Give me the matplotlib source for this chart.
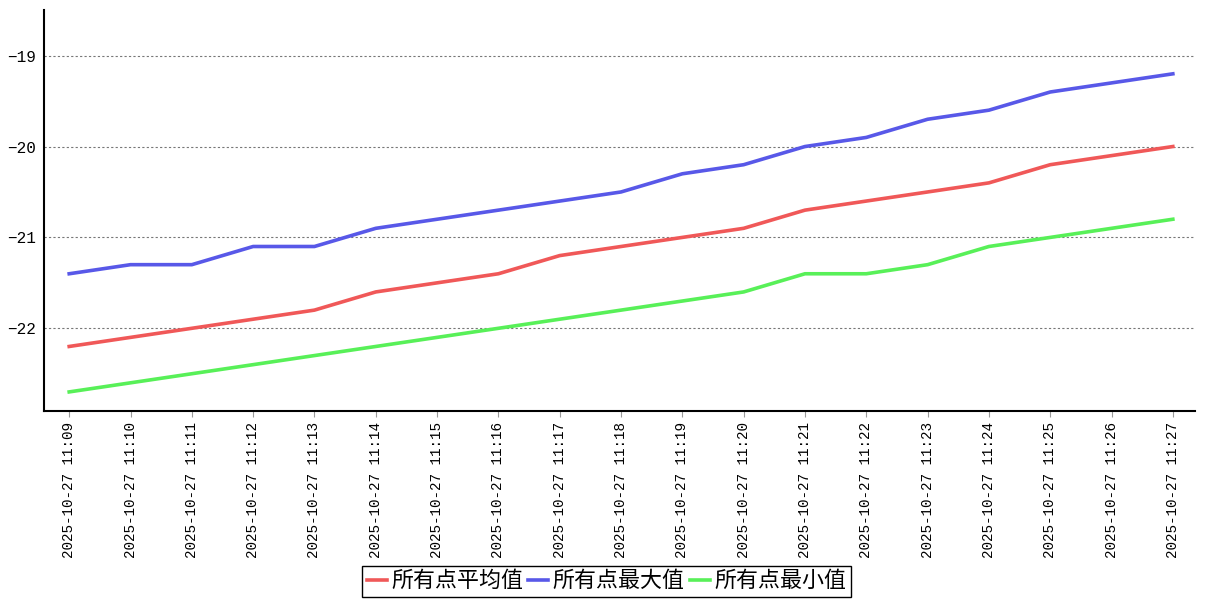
import matplotlib
matplotlib.use("Agg")
import matplotlib.pyplot as plt

# ------------------ DATA ------------------
times = ["2025-10-27 11:%02d" % m for m in range(9, 28)]

avg_vals = [-22.2, -22.1, -22.0, -21.9, -21.8, -21.6, -21.5, -21.4, -21.2, -21.1,
            -21.0, -20.9, -20.7, -20.6, -20.5, -20.4, -20.2, -20.1, -20.0]
max_vals = [-21.4, -21.3, -21.3, -21.1, -21.1, -20.9, -20.8, -20.7, -20.6, -20.5,
            -20.3, -20.2, -20.0, -19.9, -19.7, -19.6, -19.4, -19.3, -19.2]
min_vals = [-22.7, -22.6, -22.5, -22.4, -22.3, -22.2, -22.1, -22.0, -21.9, -21.8,
            -21.7, -21.6, -21.4, -21.4, -21.3, -21.1, -21.0, -20.9, -20.8]

series_names = ["所有点平均值", "所有点最大值", "所有点最小值"]
colors = ["#f05858", "#5858e8", "#58f058"]
y_ticks = [-22, -21, -20, -19]

# ------------------ PLOT ------------------
plt.rcParams['font.family'] = ['Liberation Mono', 'Noto Sans CJK SC', 'DejaVu Sans']

fig = plt.figure(figsize=(12.07, 6.0), dpi=100)
ax = fig.add_axes([0.0365, 0.315, 0.9535, 0.668])

x = list(range(len(times)))
for vals, name, c in zip([avg_vals, max_vals, min_vals], series_names, colors):
    ax.plot(x, vals, color=c, linewidth=2.6, label=name)

ax.set_xlim(-0.41, 18.36)
ax.set_ylim(-22.91, -18.5)
ax.set_xticks(x)
ax.set_xticklabels(times, rotation=90, fontsize=10.3)
ax.set_yticks(y_ticks)
ax.set_yticklabels(["\u221222", "\u221221", "\u221220", "\u221219"], fontsize=11.5)

ax.grid(axis="y", linestyle=(0, (2, 2)), color="#777777", linewidth=0.8)
ax.set_axisbelow(True)
for s in ["top", "right"]:
    ax.spines[s].set_visible(False)
ax.spines["left"].set_linewidth(1.5)
ax.spines["bottom"].set_linewidth(1.5)
ax.tick_params(axis="y", length=0, pad=6)
ax.tick_params(axis="x", length=4, color="#999999", pad=4)

leg = fig.legend(loc="lower center", bbox_to_anchor=(0.5025, 0.0), ncol=3,
                 prop={"family": ["Noto Sans CJK SC"], "size": 15.8},
                 handlelength=0.9, handletextpad=0.2, columnspacing=0.25,
                 borderpad=0.2, borderaxespad=0.15, fancybox=False,
                 edgecolor="black", framealpha=1)
leg.get_frame().set_linewidth(1.0)

fig.savefig("out.png", dpi=100)
